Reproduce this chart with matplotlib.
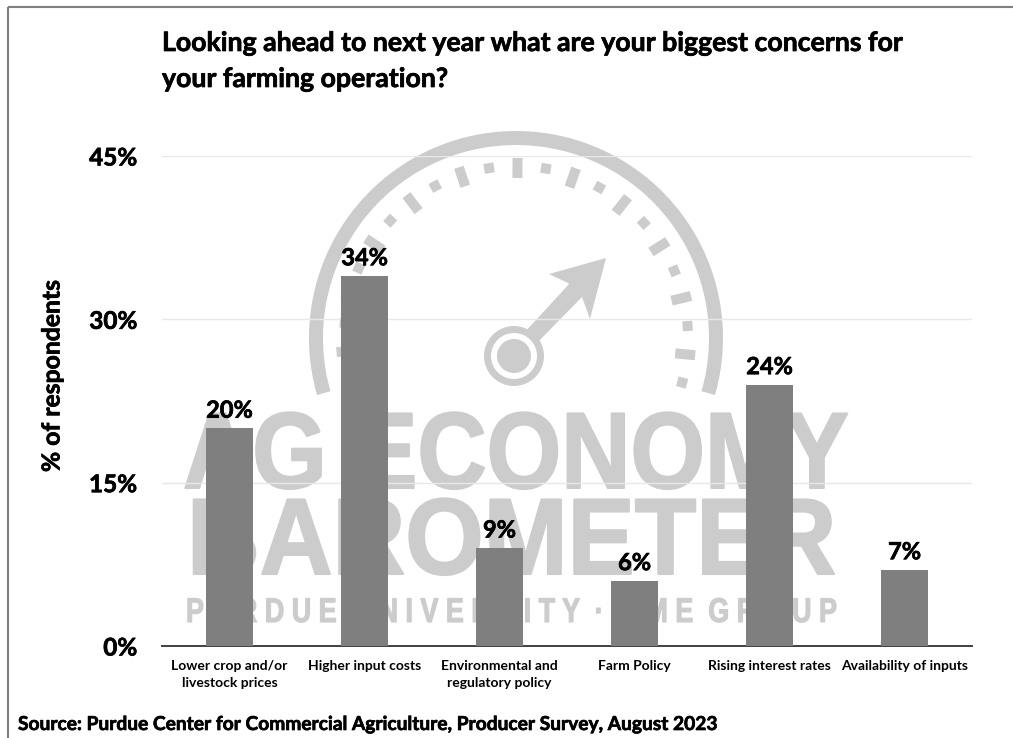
import numpy as np
import matplotlib
matplotlib.use('Agg')
import matplotlib.pyplot as plt
from matplotlib.patches import Circle, Polygon, Rectangle, Wedge
from matplotlib.patheffects import AbstractPathEffect, withStroke
from matplotlib.transforms import Affine2D

W, H = 1013, 738

categories = ['Lower crop and/or\nlivestock prices', 'Higher input costs',
              'Environmental and\nregulatory policy', 'Farm Policy',
              'Rising interest rates', 'Availability of inputs']
values = [20, 34, 9, 6, 24, 7]
yticks = [0, 15, 30, 45]

title = 'Looking ahead to next year what are your biggest concerns for\nyour farming operation?'
source = 'Source: Purdue Center for Commercial Agriculture, Producer Survey, August 2023'

WM = '#cccccc'
FONT = 'Lato'
# Lato bold is a bit light next to the scanned lettering, so thicken it
HEAVY = [withStroke(linewidth=0.5, foreground='black')]


class Squeeze(AbstractPathEffect):
    # narrows a text horizontally about an anchor given in display pixels
    def __init__(self, anchor, sx, lw=0):
        super().__init__()
        self.anchor = anchor
        self.sx = sx
        self.lw = lw

    def draw_path(self, renderer, gc, tpath, affine, rgbFace=None):
        t = affine + Affine2D().translate(-self.anchor, 0).scale(self.sx, 1).translate(self.anchor, 0)
        gc0 = renderer.new_gc()
        gc0.copy_properties(gc)
        gc0.set_linewidth(self.lw)
        gc0.set_foreground(WM)
        renderer.draw_path(gc0, tpath, t, rgbFace)
        gc0.restore()


def draw_watermark(bg):
    # gauge logo and wordmark, laid out in pixels from the top left
    cx, cy = 516, 338
    bg.add_patch(Wedge((cx, cy), 207, 164, 376, width=14, fc=WM, ec='none'))
    for i, a in enumerate(np.arange(-15, 196, 9.5)):
        long_tick = i % 2 == 1
        r0 = 160 if long_tick else 167
        r1 = 180 if long_tick else 177
        lw = 10
        ar = np.radians(a)
        ux, uy = np.cos(ar), -np.sin(ar)
        nx, ny = -uy, ux
        bg.add_patch(Polygon([(cx + ux*r0 + nx*lw/2, cy + uy*r0 + ny*lw/2),
                              (cx + ux*r1 + nx*lw/2, cy + uy*r1 + ny*lw/2),
                              (cx + ux*r1 - nx*lw/2, cy + uy*r1 - ny*lw/2),
                              (cx + ux*r0 - nx*lw/2, cy + uy*r0 - ny*lw/2)], fc=WM, ec='none'))
    # needle, its foot runs under the hub ring
    bg.add_patch(Polygon([(524, 333), (570, 283), (582, 297), (536, 344)], fc=WM, ec='none'))
    bg.add_patch(Polygon([(606, 258), (549, 274), (568, 283), (582, 297), (590, 319)], fc=WM, ec='none'))
    bg.add_patch(Circle((514, 356), 30, fc=WM, ec='none'))
    bg.add_patch(Circle((514, 356), 23, fc='white', ec='none'))
    bg.add_patch(Circle((514, 356), 17, fc=WM, ec='none'))

    for txt, x, y, fs, sx in [('AG ECONOMY', 183, 488, 78, 0.885), ('BAROMETER', 187, 574, 78, 0.93)]:
        bg.text(x, y, txt, fontsize=fs, color=WM, family='Liberation Sans', fontweight='bold',
                ha='left', va='baseline', zorder=1,
                path_effects=[Squeeze(x, sx, lw=1.5)])
    bg.text(186, 622, 'P U R D U E  U N I V E R S I T Y  ·  C M E  G R O U P', fontsize=24.7, color=WM,
            family='Liberation Sans', fontweight='bold', ha='left', va='baseline', zorder=1,
            path_effects=[Squeeze(186, 0.785, lw=0.8)])


def run():
    fig = plt.figure(figsize=(W / 100, H / 100), dpi=100, facecolor='white')

    # backdrop in pixel coordinates for the frame and the logo
    bg = fig.add_axes([0, 0, 1, 1], zorder=0)
    bg.set_xlim(0, W)
    bg.set_ylim(H, 0)
    bg.axis('off')
    bg.add_patch(Rectangle((8, 7), W + 20, H + 20, fc='none', ec='#7f7f7f', lw=1.5))
    draw_watermark(bg)

    ax = fig.add_axes([162 / W, 1 - 646 / H, 810 / W, 490 / H], zorder=1)
    ax.patch.set_alpha(0)
    x = np.arange(len(values))
    ax.bar(x, values, width=0.352, color='#7f7f7f', zorder=3)
    for xi, v in zip(x, values):
        ax.text(xi, v + 0.6, '%d%%' % v, ha='center', va='bottom', fontsize=17,
                fontweight='bold', family=FONT, color='black', zorder=4, path_effects=HEAVY)

    ax.set_xlim(-0.5, 5.5)
    ax.set_ylim(0, 45)
    ax.set_yticks(yticks)
    ax.set_yticklabels(['%d%%' % t for t in yticks], fontsize=17.5, fontweight='bold', family=FONT,
                       path_effects=HEAVY)
    ax.set_xticks(x)
    ax.set_xticklabels(categories, fontsize=10, fontweight='bold', family=FONT, linespacing=1.55)
    ax.tick_params(axis='both', length=0)
    ax.tick_params(axis='y', pad=18)
    ax.tick_params(axis='x', pad=10)
    ax.grid(axis='y', color='#e8e8e8', lw=1, zorder=1)
    ax.set_axisbelow(True)
    for s in ['top', 'right', 'left']:
        ax.spines[s].set_visible(False)
    ax.spines['bottom'].set_color('#404040')
    ax.spines['bottom'].set_linewidth(1.4)

    fig.text(52 / W, 1 - 376 / H, '% of respondents', rotation=90, ha='center', va='center',
             fontsize=17.8, fontweight='bold', family=FONT, path_effects=HEAVY)
    fig.text(162 / W, 1 - 87 / H, title, ha='left', va='baseline', fontsize=19.2, fontweight='bold',
             family=FONT, linespacing=1.6, path_effects=HEAVY)
    fig.text(18 / W, 1 - 730 / H, source, ha='left', va='baseline', fontsize=13.8, fontweight='bold',
             family=FONT, path_effects=HEAVY)

    fig.savefig('out.png', dpi=100)


if __name__ == "__main__":
    run()
